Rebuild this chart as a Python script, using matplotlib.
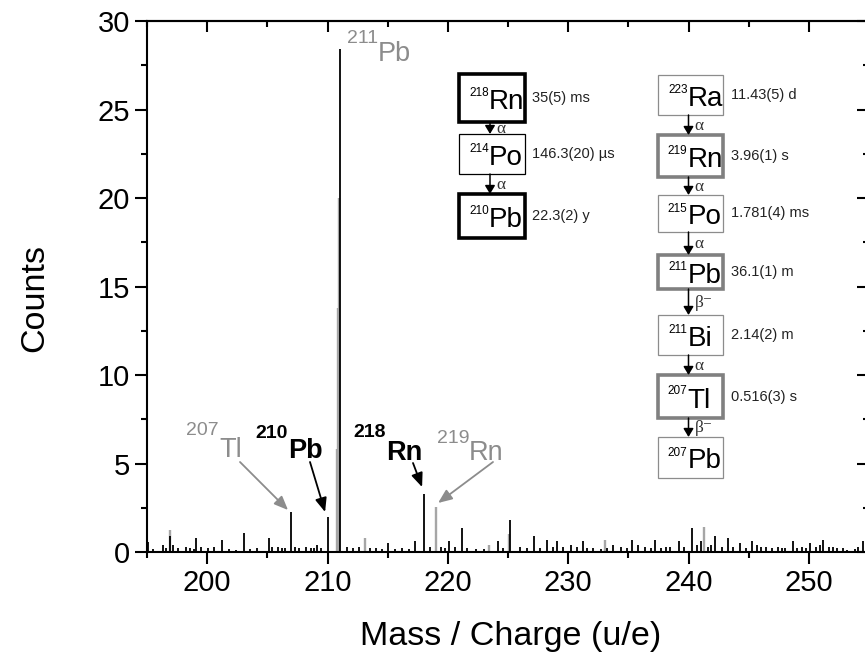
import matplotlib
matplotlib.use('Agg')
import matplotlib.pyplot as plt
from matplotlib.patches import Rectangle, FancyArrowPatch
from matplotlib.ticker import MultipleLocator

plt.rcParams['font.family'] = ['Liberation Sans', 'DejaVu Sans']

# ---------------- data ----------------
black_mass = [195.1, 195.5, 196.35, 196.6, 196.9, 197.2, 197.6, 198.2, 198.6, 198.9,
              199.1, 199.5, 200.05, 200.6, 201.2, 201.8, 202.4, 203.1, 203.6, 204.1,
              205.1, 205.4, 205.9, 206.2, 206.5, 207.0, 207.3, 207.6, 208.2, 208.6,
              208.9, 209.1, 209.5, 210.0, 211.06, 211.6, 212.1, 212.6, 213.5, 214.0,
              214.5, 215.06, 215.6, 216.2, 216.8, 217.3, 218.05, 218.5, 219.4, 219.8,
              220.1, 220.6, 221.16, 221.6, 222.3, 223.0, 224.2, 224.6, 225.17, 226.0,
              226.6, 227.2, 227.7, 228.2, 228.7, 229.1, 229.6, 230.2, 230.7, 231.2,
              231.6, 232.1, 232.7, 233.2, 233.7, 234.4, 234.9, 235.3, 235.8, 236.4,
              236.9, 237.2, 237.7, 238.1, 238.5, 239.2, 239.6, 240.3, 240.7, 241.0,
              241.6, 241.9, 242.2, 242.8, 243.3, 243.7, 244.3, 244.8, 245.3, 245.7,
              246.0, 246.4, 246.9, 247.4, 247.8, 248.0, 248.7, 249.0, 249.4, 249.8,
              250.1, 250.6, 250.9, 251.2, 251.7, 252.0, 252.3, 252.8, 253.2, 253.8,
              254.1, 254.5]
black_counts = [0.58, 0.15, 0.4, 0.2, 0.9, 0.4, 0.2, 0.3, 0.25, 0.15,
                0.77, 0.3, 0.25, 0.3, 0.68, 0.15, 0.1, 1.05, 0.15, 0.2,
                0.77, 0.3, 0.3, 0.2, 0.25, 2.28, 0.3, 0.25, 0.3, 0.2,
                0.25, 0.4, 0.2, 2.0, 28.4, 0.3, 0.25, 0.3, 0.2, 0.25,
                0.15, 0.5, 0.15, 0.25, 0.15, 0.6, 3.3, 0.3, 0.3, 0.2,
                0.6, 0.3, 1.34, 0.25, 0.15, 0.15, 0.6, 0.2, 1.8, 0.3,
                0.25, 0.9, 0.2, 0.68, 0.3, 0.6, 0.3, 0.4, 0.3, 0.6,
                0.2, 0.25, 0.15, 0.2, 0.4, 0.3, 0.25, 0.68, 0.4, 0.3,
                0.2, 0.68, 0.25, 0.3, 0.3, 0.6, 0.3, 1.34, 0.4, 0.6,
                0.3, 0.4, 0.9, 0.3, 0.8, 0.3, 0.5, 0.2, 0.6, 0.4,
                0.3, 0.3, 0.25, 0.3, 0.2, 0.25, 0.6, 0.2, 0.3, 0.25,
                0.5, 0.3, 0.4, 0.68, 0.3, 0.3, 0.25, 0.2, 0.1, 0.15,
                0.3, 0.6]

gray_mass = [196.95, 210.82, 210.87, 210.92, 213.1, 219.0, 223.4, 225.1, 233.1, 241.3]
gray_counts = [1.24, 5.8, 13.8, 20.0, 0.77, 2.56, 0.4, 1.0, 0.68, 1.43]

x_ticks = [200, 210, 220, 230, 240, 250]
y_ticks = [0, 5, 10, 15, 20, 25, 30]

# peak annotations: (mass number, element, arrow-tip mass, arrow-tip counts, color, bold)
peak_labels = [("207", "Tl", 206.72, 2.37, "#8c8c8c", False),
               ("210", "Pb", 209.80, 2.26, "black", True),
               ("218", "Rn", 217.86, 3.67, "black", True),
               ("219", "Rn", 219.19, 2.77, "#8c8c8c", False)]

chain_left = [("218", "Rn", "35(5) ms", "thick"),
              ("214", "Po", "146.3(20) µs", "thin"),
              ("210", "Pb", "22.3(2) y", "thick")]
chain_left_decays = ["α", "α"]

chain_right = [("223", "Ra", "11.43(5) d", "thin"),
               ("219", "Rn", "3.96(1) s", "thick"),
               ("215", "Po", "1.781(4) ms", "thin"),
               ("211", "Pb", "36.1(1) m", "thick"),
               ("211", "Bi", "2.14(2) m", "thin"),
               ("207", "Tl", "0.516(3) s", "thick"),
               ("207", "Pb", "", "thin")]
chain_right_decays = ["α", "α", "α", "β⁻", "α", "β⁻"]

# ---------------- figure ----------------
W, H = 865, 661
fig = plt.figure(figsize=(W / 100, H / 100), dpi=100)
fig.patch.set_facecolor('white')


def fx(x):
    return x / W


def fy(y):
    return 1 - y / H


ax = fig.add_axes([fx(147), fy(552), (869 - 147) / W, (552 - 21) / H])

ax.vlines(gray_mass, 0, gray_counts, color='#a6a6a6', lw=1.7, zorder=2)
ax.vlines(black_mass, 0, black_counts, color='black', lw=1.3, zorder=3)

ax.set_xlim(195, 255)
ax.set_ylim(0, 30)
ax.set_xticks(x_ticks)
ax.set_yticks(y_ticks)
ax.xaxis.set_minor_locator(MultipleLocator(5))
ax.yaxis.set_minor_locator(MultipleLocator(2.5))
ax.tick_params(which='both', direction='out', top=False, right=False, width=1.5,
               labelsize=21, pad=3.5)
ax.tick_params(which='major', length=8.5)
ax.tick_params(which='minor', length=4.5)
for s in ax.spines.values():
    s.set_linewidth(1.5)

sec_x = ax.secondary_xaxis('top')
sec_x.set_xticks(x_ticks)
sec_x.xaxis.set_minor_locator(MultipleLocator(5))
sec_x.tick_params(which='both', direction='in', labeltop=False, width=1.5)
sec_x.tick_params(which='major', length=8)
sec_x.tick_params(which='minor', length=4)
sec_x.spines['top'].set_linewidth(1.5)

sec_y = ax.secondary_yaxis('right')
sec_y.set_yticks(y_ticks)
sec_y.yaxis.set_minor_locator(MultipleLocator(2.5))
sec_y.tick_params(which='both', direction='in', labelright=False, width=1.5)
sec_y.tick_params(which='major', length=8.5)
sec_y.tick_params(which='minor', length=4)

fig.text(fx(35), fy(298), 'Counts', rotation=90, ha='center', va='center', fontsize=24.5)
fig.text(fx(511), fy(637), 'Mass / Charge (u/e)', ha='center', va='center', fontsize=24.5)


def iso_text(xa, y_sup, y_el, mass, elem, fs_sup, fs_el, color, weight='normal'):
    fig.text(fx(xa), fy(y_sup), mass, ha='right', va='baseline', fontsize=fs_sup,
             color=color, weight=weight, zorder=6)
    fig.text(fx(xa), fy(y_el), elem, ha='left', va='baseline', fontsize=fs_el,
             color=color, weight=weight, zorder=6)


# peak labels
label_pos = [(219, 435, 457, 240, 462), (288, 438, 458, 310, 462),
             (386, 437, 460, 413, 463), (469, 443, 460, 493, 462)]
for (m, el, tx, ty, col, bold), (xa, ys, ye, ax0, ay0) in zip(peak_labels, label_pos):
    iso_text(xa, ys, ye, m, el, 14, 19.5, col, 'bold' if bold else 'normal')
    ax.annotate('', xy=(tx, ty), xycoords='data', xytext=(fx(ax0), fy(ay0)),
                textcoords='figure fraction',
                arrowprops=dict(arrowstyle='-|>,head_length=0.6,head_width=0.25',
                                color=col, lw=1.3, mutation_scale=14,
                                shrinkA=0, shrinkB=0))

iso_text(378, 43, 61, "211", "Pb", 14, 19.5, "#8c8c8c")


def draw_chain(chain, decays, x0, x1, tops, bots, thick_color, thin_color, hl_x, thick_lw):
    cx = (x0 + x1) / 2
    for i, ((m, el, hl, kind), t, b) in enumerate(zip(chain, tops, bots)):
        col = thick_color if kind == 'thick' else thin_color
        lw = thick_lw if kind == 'thick' else 0.9
        fig.add_artist(Rectangle((fx(x0), fy(b)), (x1 - x0) / W, (b - t) / H,
                                 transform=fig.transFigure, facecolor='white',
                                 edgecolor=col, lw=lw, zorder=5))
        c = (t + b) / 2
        iso_text(cx - 3, c - 2, c + 11, m, el, 8.5, 20, 'black')
        if hl:
            fig.text(fx(hl_x), fy(c + 4), hl, ha='left', va='baseline', fontsize=10.5,
                     color='#222222', zorder=6)
    for i, d in enumerate(decays):
        y0 = bots[i]
        y1 = tops[i + 1]
        fig.add_artist(FancyArrowPatch((fx(cx - 2), fy(y0)), (fx(cx - 2), fy(y1)),
                                       transform=fig.transFigure,
                                       arrowstyle='-|>,head_length=0.5,head_width=0.3',
                                       mutation_scale=10, color='black', lw=1.1,
                                       shrinkA=0, shrinkB=0, zorder=6))
        fig.text(fx(cx + 4), fy((y0 + y1) / 2 + 5), d, ha='left', va='baseline',
                 fontsize=12.5, family=['Liberation Serif', 'DejaVu Serif'],
                 color='#333333', zorder=6)


draw_chain(chain_left, chain_left_decays, 459, 525, [74, 134, 194], [122, 174, 238],
           'black', 'black', 532, 2.6)
draw_chain(chain_right, chain_right_decays, 658, 723,
           [75, 135, 195, 255, 315, 375, 437], [115, 177, 232, 289, 355, 418, 478],
           '#808080', '#8c8c8c', 731, 2.6)

fig.savefig('out.png', dpi=100)
